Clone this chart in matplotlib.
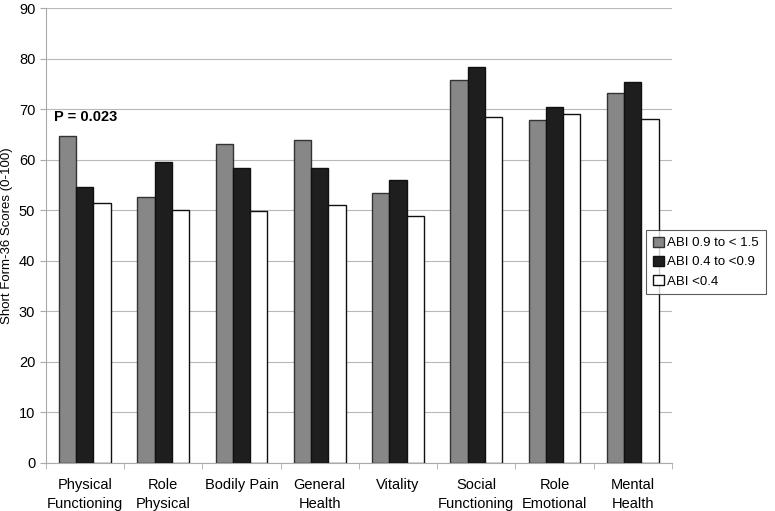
import matplotlib
matplotlib.use("Agg")
import numpy as np
import matplotlib.pyplot as plt

categories = ["Physical\nFunctioning", "Role\nPhysical", "Bodily Pain", "General\nHealth",
              "Vitality", "Social\nFunctioning", "Role\nEmotional", "Mental\nHealth"]
abi_high = [64.8, 52.7, 63.1, 63.9, 53.4, 75.8, 67.8, 73.2]
abi_mid = [54.6, 59.6, 58.4, 58.4, 56.0, 78.4, 70.4, 75.4]
abi_low = [51.5, 50.1, 49.9, 51.0, 48.8, 68.5, 69.1, 68.1]
labels = ["ABI 0.9 to < 1.5", "ABI 0.4 to <0.9", "ABI <0.4"]

plt.rcParams['font.family'] = ['Liberation Sans', 'DejaVu Sans']

fig = plt.figure(figsize=(7.75, 5.11), dpi=100)
ax = fig.add_axes([0.059, 0.094, 0.808, 0.89])

x = np.arange(len(categories))
w = 0.22
ax.bar(x - w, abi_high, w, color="#878787", edgecolor="#333333", linewidth=1.0, label=labels[0], zorder=3)
ax.bar(x, abi_mid, w, color="#1e1e1e", edgecolor="#111111", linewidth=1.0, label=labels[1], zorder=3)
ax.bar(x + w, abi_low, w, color="white", edgecolor="#111111", linewidth=1.0, label=labels[2], zorder=3)

ax.set_xlim(-0.5, len(categories) - 0.5)
ax.set_ylim(0, 90)
ax.set_yticks(np.arange(0, 91, 10))
ax.yaxis.grid(True, color="#b8b8b8", linewidth=0.8, zorder=0)
ax.set_xticks(x)
ax.set_xticklabels(categories, fontsize=10.5, linespacing=1.45)
ax.set_xticks(np.arange(-0.5, len(categories), 1), minor=True)
ax.tick_params(axis="x", which="major", length=0, pad=11)
ax.tick_params(axis="x", which="minor", length=4, color="#aaaaaa")
ax.tick_params(axis="y", labelsize=10.5, length=4, color="#aaaaaa")
ax.spines["top"].set_visible(False)
ax.spines["right"].set_visible(False)
ax.spines["bottom"].set_color("#aaaaaa")
ax.spines["left"].set_color("#aaaaaa")
ax.set_ylabel("Short Form-36 Scores (0-100)", fontsize=9.5)

ax.text(-0.4, 68.4, "P = 0.023", fontsize=10.5, fontweight="bold", va="center")

leg = fig.legend(loc="center left", bbox_to_anchor=(0.834, 0.487), fontsize=9.5, frameon=True,
                 fancybox=False, edgecolor="#333333", handlelength=0.8, handleheight=0.8,
                 handletextpad=0.3, borderpad=0.5, labelspacing=0.5, borderaxespad=0)
leg.get_frame().set_linewidth(0.8)

fig.savefig("out.png", dpi=100)
